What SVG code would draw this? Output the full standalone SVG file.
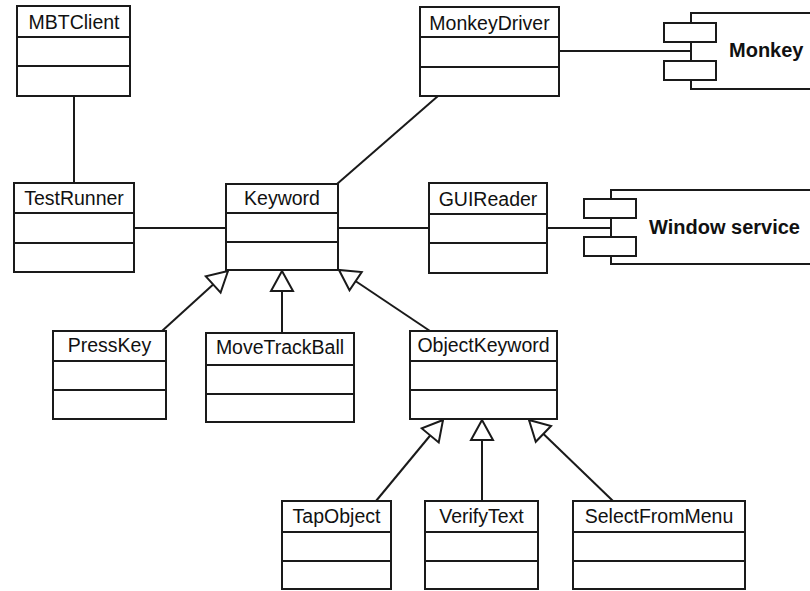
<svg xmlns="http://www.w3.org/2000/svg" width="810" height="591" viewBox="0 0 810 591">
  <style>
    .box { fill: #fff; stroke: #1a1a1a; stroke-width: 2; }
    .div { stroke: #1a1a1a; stroke-width: 2; }
    .name { font-family: "Liberation Sans", Arial, sans-serif; font-size: 19.5px; fill: #111; text-anchor: middle; }
    .comp { font-family: "Liberation Sans", Arial, sans-serif; font-size: 20px; font-weight: bold; fill: #111; }
    .link { stroke: #1a1a1a; stroke-width: 2; fill: none; }
    .gen { marker-end: url(#hollow); }
  </style>
  <defs>
    <marker id="hollow" viewBox="-2 -2 24 26" refX="20" refY="11" markerWidth="24" markerHeight="26" markerUnits="userSpaceOnUse" orient="auto">
      <path d="M20,11 L0,0 L0,22 Z" fill="#fff" stroke="#1a1a1a" stroke-width="2" stroke-linejoin="miter"/>
    </marker>
  </defs>
  <rect width="810" height="591" fill="#fff"/>

  <!-- connectors -->
  <g id="connectors">
    <line class="link" x1="74" y1="96" x2="74" y2="183"/>
    <line class="link" x1="134" y1="228" x2="226" y2="228"/>
    <line class="link" x1="337" y1="184" x2="438" y2="96"/>
    <line class="link" x1="559" y1="51" x2="691" y2="51"/>
    <line class="link" x1="338" y1="228" x2="429" y2="228"/>
    <line class="link" x1="547" y1="228" x2="610" y2="228"/>
    <line class="link gen" x1="162" y1="331" x2="228" y2="271"/>
    <line class="link gen" x1="282" y1="333" x2="282" y2="271"/>
    <line class="link gen" x1="430" y1="331" x2="339" y2="270"/>
    <line class="link gen" x1="376" y1="501" x2="443" y2="420"/>
    <line class="link gen" x1="482" y1="501" x2="482" y2="420"/>
    <line class="link gen" x1="613" y1="501" x2="529" y2="420"/>
  </g>

  <!-- classes -->
  <g id="MBTClient">
    <rect class="box" x="17" y="6" width="113" height="90"/>
    <line class="div" x1="17" y1="37" x2="130" y2="37"/>
    <line class="div" x1="17" y1="66" x2="130" y2="66"/>
    <text class="name" x="74" y="29">MBTClient</text>
  </g>
  <g id="MonkeyDriver">
    <rect class="box" x="420" y="7" width="139" height="89"/>
    <line class="div" x1="420" y1="37" x2="559" y2="37"/>
    <line class="div" x1="420" y1="67" x2="559" y2="67"/>
    <text class="name" x="489.5" y="30">MonkeyDriver</text>
  </g>
  <g id="TestRunner">
    <rect class="box" x="14" y="183" width="120" height="89"/>
    <line class="div" x1="14" y1="213" x2="134" y2="213"/>
    <line class="div" x1="14" y1="243" x2="134" y2="243"/>
    <text class="name" x="74" y="205">TestRunner</text>
  </g>
  <g id="Keyword">
    <rect class="box" x="226" y="184" width="112" height="86"/>
    <line class="div" x1="226" y1="213" x2="338" y2="213"/>
    <line class="div" x1="226" y1="242" x2="338" y2="242"/>
    <text class="name" x="282" y="205">Keyword</text>
  </g>
  <g id="GUIReader">
    <rect class="box" x="429" y="183" width="118" height="90"/>
    <line class="div" x1="429" y1="214" x2="547" y2="214"/>
    <line class="div" x1="429" y1="243" x2="547" y2="243"/>
    <text class="name" x="488" y="206">GUIReader</text>
  </g>
  <g id="PressKey">
    <rect class="box" x="53" y="331" width="113" height="88"/>
    <line class="div" x1="53" y1="361" x2="166" y2="361"/>
    <line class="div" x1="53" y1="390" x2="166" y2="390"/>
    <text class="name" x="109.5" y="352">PressKey</text>
  </g>
  <g id="MoveTrackBall">
    <rect class="box" x="206" y="333" width="148" height="89"/>
    <line class="div" x1="206" y1="365" x2="354" y2="365"/>
    <line class="div" x1="206" y1="394" x2="354" y2="394"/>
    <text class="name" x="280" y="354">MoveTrackBall</text>
  </g>
  <g id="ObjectKeyword">
    <rect class="box" x="410" y="331" width="147" height="88"/>
    <line class="div" x1="410" y1="361" x2="557" y2="361"/>
    <line class="div" x1="410" y1="390" x2="557" y2="390"/>
    <text class="name" x="483.5" y="352">ObjectKeyword</text>
  </g>
  <g id="TapObject">
    <rect class="box" x="282" y="501" width="109" height="88"/>
    <line class="div" x1="282" y1="532" x2="391" y2="532"/>
    <line class="div" x1="282" y1="561" x2="391" y2="561"/>
    <text class="name" x="336.5" y="523">TapObject</text>
  </g>
  <g id="VerifyText">
    <rect class="box" x="425" y="501" width="113" height="88"/>
    <line class="div" x1="425" y1="532" x2="538" y2="532"/>
    <line class="div" x1="425" y1="561" x2="538" y2="561"/>
    <text class="name" x="481.5" y="523">VerifyText</text>
  </g>
  <g id="SelectFromMenu">
    <rect class="box" x="573" y="501" width="172" height="88"/>
    <line class="div" x1="573" y1="532" x2="745" y2="532"/>
    <line class="div" x1="573" y1="561" x2="745" y2="561"/>
    <text class="name" x="659" y="523">SelectFromMenu</text>
  </g>

  <!-- components -->
  <g id="Monkey">
    <rect class="box" x="691" y="13" width="125" height="76"/>
    <rect class="box" x="664" y="23" width="52" height="19"/>
    <rect class="box" x="664" y="61" width="52" height="19"/>
    <text class="comp" x="729" y="57">Monkey</text>
  </g>
  <g id="WindowService">
    <rect class="box" x="611" y="190" width="205" height="74"/>
    <rect class="box" x="584" y="199" width="52" height="19"/>
    <rect class="box" x="584" y="237" width="52" height="19"/>
    <text class="comp" x="649" y="234">Window service</text>
  </g>
</svg>
